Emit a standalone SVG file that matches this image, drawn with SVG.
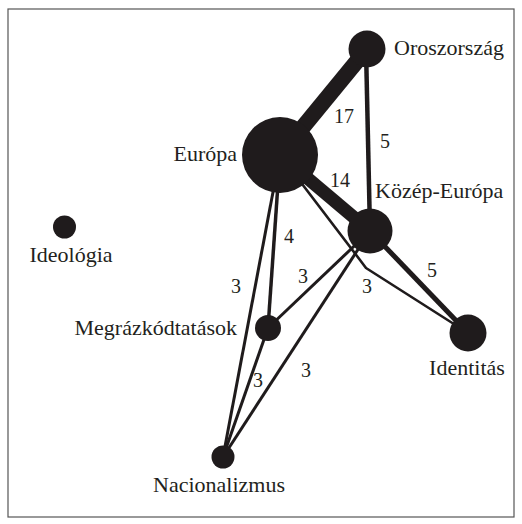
<svg xmlns="http://www.w3.org/2000/svg" width="522" height="524" viewBox="0 0 522 524">
<style>
.edge{stroke:#1f1b1c;fill:none;stroke-linecap:butt;stroke-linejoin:round}
.node{fill:#1f1b1c}
.lbl{font-size:22px;fill:#231f20}
.num{font-size:20px;fill:#231f20;text-anchor:middle}
</style>
<rect x="8" y="9" width="506" height="508" fill="#fff" stroke="#555" stroke-width="1.2"/>
<g font-family="Liberation Serif, Times New Roman, serif">
<g id="connectors">
<line class="edge" x1="280" y1="155" x2="367" y2="49" stroke-width="16"/>
<line class="edge" x1="280" y1="155" x2="370" y2="231" stroke-width="13"/>
<line class="edge" x1="366" y1="49" x2="370" y2="231" stroke-width="4.5"/>
<line class="edge" x1="370" y1="231" x2="468" y2="333" stroke-width="5"/>
<line class="edge" x1="280" y1="155" x2="268" y2="328" stroke-width="3.5"/>
<line class="edge" x1="280" y1="155" x2="223" y2="457" stroke-width="3"/>
<polyline class="edge" points="280,155 360,260 366,268 468,333" stroke-width="2.6"/>
<line class="edge" x1="370" y1="231" x2="268" y2="328" stroke-width="3"/>
<line class="edge" x1="370" y1="231" x2="223" y2="457" stroke-width="3"/>
<line class="edge" x1="268" y1="328" x2="223" y2="457" stroke-width="3"/>
<text class="num" x="344" y="123">17</text>
<text class="num" x="385" y="148">5</text>
<text class="num" x="340" y="187">14</text>
<text class="num" x="289" y="243">4</text>
<text class="num" x="236" y="293">3</text>
<text class="num" x="303" y="283">3</text>
<text class="num" x="367" y="293">3</text>
<text class="num" x="432" y="277">5</text>
<text class="num" x="258" y="387">3</text>
<text class="num" x="306" y="377">3</text>
</g>
<g id="oroszorszag"><circle class="node" cx="367" cy="49" r="18.5"/><text class="lbl" x="394" y="55">Oroszország</text></g>
<g id="europa"><circle class="node" cx="280" cy="155" r="38"/><text class="lbl" x="237" y="161" text-anchor="end">Európa</text></g>
<g id="kozep-europa"><circle class="node" cx="370" cy="231" r="22.5"/><text class="lbl" x="375" y="198">Közép-Európa</text></g>
<g id="ideologia"><circle class="node" cx="64.5" cy="227" r="11.5"/><text class="lbl" x="71" y="262" text-anchor="middle">Ideológia</text></g>
<g id="megrazkodtatasok"><circle class="node" cx="268" cy="328" r="13"/><text class="lbl" x="237" y="335" text-anchor="end">Megrázkódtatások</text></g>
<g id="identitas"><circle class="node" cx="468" cy="333" r="18.5"/><text class="lbl" x="467" y="375" text-anchor="middle">Identitás</text></g>
<g id="nacionalizmus"><circle class="node" cx="223" cy="457" r="11.5"/><text class="lbl" x="219" y="492" text-anchor="middle">Nacionalizmus</text></g>
</g>
</svg>
